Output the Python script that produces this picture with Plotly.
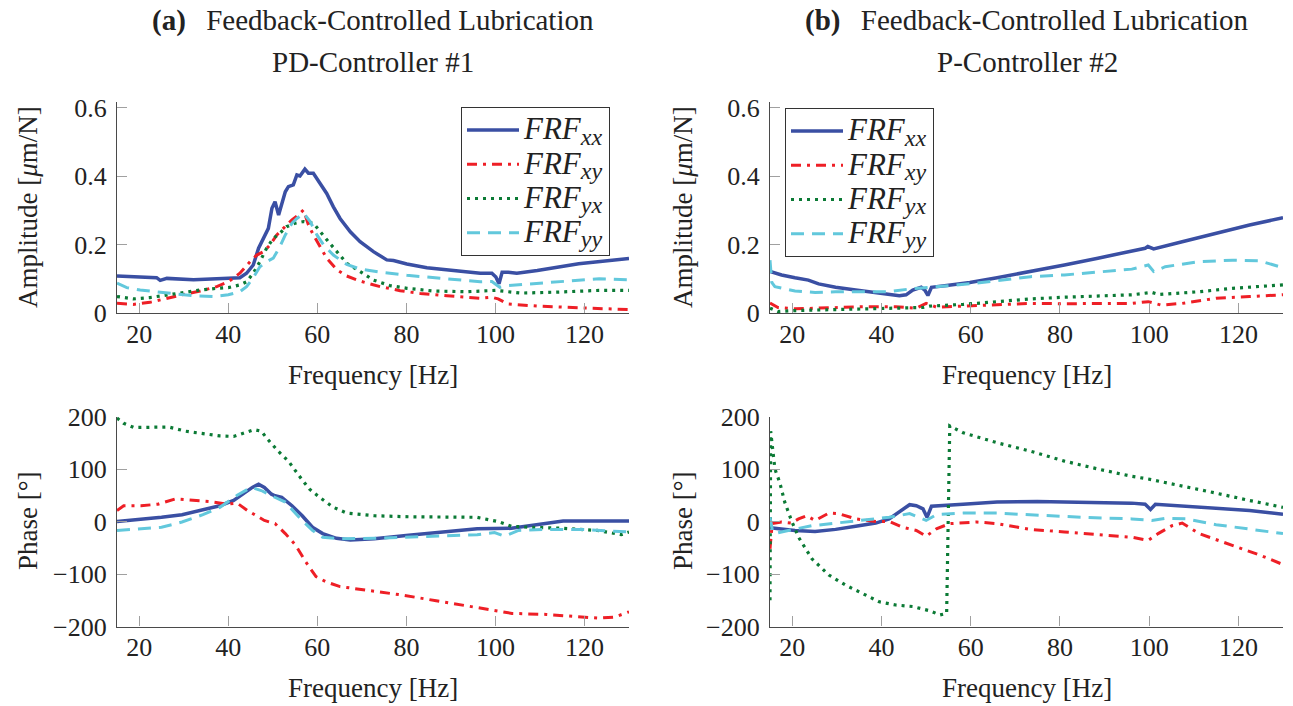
import plotly.graph_objects as go

# ---------------- Data ----------------
# (a) PD-Controller #1 : amplitude
a_amp_f_xx = [15, 20.2, 23.9, 24.7, 26.2, 32.2, 37.4, 40, 42.6, 44.1, 45.6, 46.8, 47.9, 49, 49.8, 50.5, 51.3, 52, 52.8, 53.5, 54.6, 55.4, 56.1, 57.2, 58, 59.1, 60.6, 62.1, 63.6, 65.1, 67.4, 69.6, 72.6, 75.6, 77.1, 80.1, 84.6, 89.1, 93.6, 96.6, 99.2, 100.1, 100.8, 101.5, 102.9, 104.8, 109.4, 118.7, 130]
a_amp_xx = [0.109, 0.105, 0.104, 0.096, 0.102, 0.098, 0.102, 0.102, 0.104, 0.117, 0.141, 0.19, 0.219, 0.248, 0.307, 0.326, 0.287, 0.316, 0.355, 0.37, 0.375, 0.404, 0.401, 0.421, 0.409, 0.409, 0.38, 0.35, 0.311, 0.277, 0.238, 0.209, 0.18, 0.156, 0.154, 0.144, 0.133, 0.127, 0.119, 0.117, 0.117, 0.106, 0.086, 0.12, 0.12, 0.117, 0.125, 0.145, 0.16]
a_amp_f_xy = [15, 18.7, 22.4, 26.2, 29.9, 33.7, 37.4, 40, 42.6, 44.9, 46.4, 47.9, 49.4, 50.9, 52.4, 54.3, 55.7, 56.9, 58, 59.1, 60.6, 62.1, 64.4, 66.6, 69.6, 74.1, 78.6, 83.1, 89.1, 96.6, 99.2, 100.6, 102.9, 109.4, 118.7, 130]
a_amp_xy = [0.029, 0.026, 0.032, 0.044, 0.055, 0.065, 0.078, 0.092, 0.117, 0.151, 0.17, 0.18, 0.2, 0.229, 0.248, 0.273, 0.287, 0.302, 0.258, 0.229, 0.195, 0.161, 0.127, 0.109, 0.094, 0.078, 0.066, 0.058, 0.051, 0.044, 0.047, 0.042, 0.027, 0.021, 0.016, 0.011]
a_amp_f_yx = [15, 18.7, 22.4, 26.2, 29.9, 33.7, 37.4, 40, 42.6, 44.1, 45.6, 47.1, 48.6, 50.1, 51.6, 53.1, 55, 56.9, 59.1, 60.6, 62.5, 64.4, 66.6, 69.6, 72.6, 76.3, 80.1, 86.1, 93.6, 100.1, 105.7, 114.1, 123.3, 130]
a_amp_yx = [0.049, 0.042, 0.046, 0.054, 0.061, 0.068, 0.073, 0.075, 0.083, 0.092, 0.117, 0.151, 0.19, 0.219, 0.234, 0.253, 0.263, 0.268, 0.263, 0.238, 0.209, 0.18, 0.146, 0.122, 0.097, 0.081, 0.073, 0.065, 0.063, 0.067, 0.059, 0.062, 0.067, 0.067]
a_amp_f_yy = [15, 17.2, 20.2, 23.9, 28.4, 32.2, 36.6, 40, 42.6, 44.1, 45.6, 47.1, 48.6, 50.1, 51.6, 52.8, 54.3, 55.4, 56.9, 58.4, 59.9, 61.4, 63.6, 66.6, 69.6, 74.1, 80.1, 86.1, 92.1, 96.6, 99.2, 101, 102.9, 109.4, 118.7, 123.3, 130]
a_amp_yy = [0.088, 0.075, 0.068, 0.063, 0.055, 0.051, 0.049, 0.054, 0.063, 0.078, 0.104, 0.136, 0.151, 0.161, 0.195, 0.229, 0.263, 0.277, 0.292, 0.268, 0.229, 0.2, 0.17, 0.143, 0.129, 0.12, 0.111, 0.104, 0.097, 0.092, 0.093, 0.076, 0.081, 0.088, 0.096, 0.101, 0.098]

# (a) phase
a_ph_f_xx = [15, 20.4, 25, 29.6, 34.3, 38.1, 41.2, 43.5, 45.4, 46.8, 48.1, 49.7, 50.5, 52, 54.3, 56.6, 58.9, 61.2, 64.3, 67.4, 72.8, 80.5, 88.2, 95.9, 103.6, 111.4, 115.2, 122.9, 130]
a_ph_xx = [0, 4, 8, 13, 23, 30, 40, 54, 65, 71, 65, 52, 49, 46, 30, 11, -11, -23, -32, -35, -33, -26, -20, -14, -13, -3, 1, 1, 1]
a_ph_f_xy = [15, 16.5, 20.4, 24.2, 28.1, 31.2, 35.8, 39.7, 42, 44.3, 48.1, 50.5, 52.8, 55.1, 57.4, 59.7, 62, 65.1, 71.3, 79, 86.7, 94.4, 99.8, 103.7, 111.4, 119.1, 122.9, 126.8, 130]
a_ph_xy = [21, 30, 30, 33, 43, 41, 38, 33, 35, 21, 2, -4, -23, -45, -77, -105, -115, -124, -131, -140, -151, -162, -170, -175, -177, -181, -184, -182, -172]
a_ph_f_yx = [15, 16.5, 18.8, 22.7, 26.6, 30.4, 34.3, 38.1, 41.2, 43.5, 45.8, 47.4, 48.9, 51.2, 53.5, 55.9, 58.2, 60.5, 63.6, 66.6, 72.8, 80.5, 88.2, 95.9, 100.5, 103.6, 107.5, 115.2, 122.9, 128.3, 130]
a_ph_yx = [197, 187, 179, 179, 180, 172, 168, 163, 162, 169, 175, 172, 156, 134, 115, 87, 62, 46, 27, 16, 11, 9, 9, 8, 0, -9, -11, -13, -17, -25, -20]
a_ph_f_yy = [15, 18.8, 25, 29.6, 34.3, 38.1, 42, 45.1, 47.4, 49.7, 52.8, 55.9, 58.9, 61.2, 65.1, 72.8, 80.5, 88.2, 95.9, 99.8, 102.1, 105.2, 111.4, 119.1, 130]
a_ph_yy = [-17, -15, -11, -1, 13, 27, 50, 65, 59, 49, 37, 8, -17, -30, -33, -32, -30, -28, -25, -21, -28, -17, -15, -15, -20]

# (b) P-Controller #2 : amplitude
b_amp_f_xx = [15, 17.6, 20.6, 23.6, 25.9, 29.7, 34.2, 38.7, 41.7, 44, 45.5, 47, 48.9, 49.7, 50.4, 51.2, 54.6, 59.8, 65.9, 73.4, 81, 88.5, 96.1, 99.1, 99.7, 101, 107.4, 115, 122.5, 130]
b_amp_xx = [0.122, 0.112, 0.104, 0.097, 0.086, 0.076, 0.068, 0.061, 0.054, 0.051, 0.054, 0.068, 0.076, 0.068, 0.052, 0.076, 0.081, 0.09, 0.104, 0.122, 0.141, 0.161, 0.18, 0.19, 0.195, 0.188, 0.209, 0.234, 0.258, 0.279]
b_amp_f_xy = [15, 16.8, 20.6, 28.2, 35.7, 43.2, 47.8, 50, 52.3, 58.3, 65.9, 73.4, 81, 88.5, 96.1, 99.8, 102.7, 107.4, 115, 122.5, 130]
b_amp_xy = [0.03, 0.017, 0.013, 0.017, 0.019, 0.019, 0.015, 0.029, 0.018, 0.021, 0.026, 0.029, 0.028, 0.029, 0.029, 0.034, 0.024, 0.029, 0.044, 0.049, 0.054]
b_amp_f_yx = [15, 16.8, 20.6, 28.2, 35.7, 43.2, 49.3, 50.8, 58.3, 65.9, 73.4, 81, 88.5, 96.1, 100.6, 102.2, 111.2, 118.7, 130]
b_amp_yx = [0.015, 0.005, 0.008, 0.01, 0.013, 0.015, 0.017, 0.021, 0.026, 0.034, 0.042, 0.047, 0.05, 0.054, 0.061, 0.055, 0.063, 0.073, 0.083]
b_amp_f_yy = [15, 15.4, 16.1, 20.6, 25.1, 29.7, 35.7, 41.7, 46.3, 50.8, 55.3, 61.4, 67.4, 73.4, 81, 88.5, 96.1, 99.8, 101, 103.6, 111.2, 118.7, 124.8, 130]
b_amp_yy = [0.155, 0.09, 0.078, 0.065, 0.061, 0.063, 0.063, 0.063, 0.071, 0.075, 0.081, 0.088, 0.097, 0.107, 0.112, 0.12, 0.129, 0.141, 0.122, 0.136, 0.151, 0.155, 0.153, 0.133]

# (b) phase
b_ph_f_xx = [15, 20.6, 25.1, 29.7, 34.2, 38.7, 41.7, 44, 46.3, 47.8, 49.3, 50.2, 51.2, 58.3, 65.9, 74.9, 84.8, 96.1, 99.1, 100.3, 101.4, 111.2, 122.5, 130]
b_ph_xx = [-12, -17, -19, -15, -9, -3, 5, 19, 32, 30, 24, 8, 29, 33, 37, 38, 37, 35, 33, 23, 33, 27, 21, 14]
b_ph_f_xy = [15, 15.5, 17.6, 19.8, 21.4, 23.2, 25.1, 28.2, 30.4, 34.2, 38.7, 41.7, 44.8, 47.8, 50, 52.3, 55.3, 61.4, 65.9, 73.4, 81, 88.5, 96.1, 99.8, 102, 105.1, 107.4, 111.2, 118.7, 124.8, 130]
b_ph_xy = [-52, -4, -1, -3, 5, 11, 2, 16, 15, 5, 0, 0, -11, -17, -28, -14, -4, -1, -4, -15, -20, -25, -30, -36, -23, -8, -3, -23, -45, -64, -82]
b_ph_f_yx = [15, 15.15, 16.1, 17.2, 18.3, 19.8, 21.4, 24.4, 28.2, 31.9, 35.7, 39.5, 43.2, 47, 50.8, 53.1, 54.6, 55.3, 58.3, 65.9, 73.4, 81, 88.5, 96.1, 99.8, 107.4, 115, 122.5, 130]
b_ph_yx = [-150, 172, 100, 74, 37, 2, -30, -71, -102, -121, -137, -153, -159, -162, -170, -178, -175, 182, 169, 150, 134, 115, 100, 86, 81, 68, 54, 40, 27]
b_ph_f_yy = [15, 15.6, 16.1, 19.1, 24.4, 29.7, 35.7, 41.7, 46.3, 48.5, 50, 52.3, 58.3, 65.9, 73.4, 84.8, 96.1, 100.6, 103.6, 108.2, 115, 122.5, 130]
b_ph_yy = [8, -20, -23, -17, -8, -3, 2, 8, 15, 8, 2, 13, 16, 16, 13, 8, 5, 2, 6, 5, -6, -15, -23]

x_ticks = [20, 40, 60, 80, 100, 120]
amp_ticks = [0, 0.2, 0.4, 0.6]
amp_ticktext = ["0", "0.2", "0.4", "0.6"]
ph_ticks = [-200, -100, 0, 100, 200]

subscripts = ["xx", "xy", "yx", "yy"]
names = ['<span style="font-size:31px"><i>FRF</i></span><sub><span style="font-size:24px"><i>%s</i></span></sub>' % s
         for s in subscripts]

# ---------------- Styling ----------------
W, H = 1293, 706
FONT = "Liberation Serif, DejaVu Serif, serif"
colors = ["#3a4fa3", "#ee1f26", "#0b7a35", "#62c8dc"]
dashes = ["solid", "10px,6px,3px,6px", "3px,5px", "13px,8px"]
widths = [3.5, 3, 3.2, 3]

def px_x(a, b):
    return [a / W, b / W]

def px_y(top, bottom):
    return [1 - bottom / H, 1 - top / H]

XL = px_x(117, 629)
XR = px_x(770, 1283)
YT = px_y(101.7, 313.3)
YB = px_y(416.5, 626.5)

fig = go.Figure()

panels = [
    ("x", "y", [a_amp_f_xx, a_amp_f_xy, a_amp_f_yx, a_amp_f_yy], [a_amp_xx, a_amp_xy, a_amp_yx, a_amp_yy], "legend"),
    ("x2", "y2", [b_amp_f_xx, b_amp_f_xy, b_amp_f_yx, b_amp_f_yy], [b_amp_xx, b_amp_xy, b_amp_yx, b_amp_yy], "legend2"),
    ("x3", "y3", [a_ph_f_xx, a_ph_f_xy, a_ph_f_yx, a_ph_f_yy], [a_ph_xx, a_ph_xy, a_ph_yx, a_ph_yy], None),
    ("x4", "y4", [b_ph_f_xx, b_ph_f_xy, b_ph_f_yx, b_ph_f_yy], [b_ph_xx, b_ph_xy, b_ph_yx, b_ph_yy], None),
]

for xa, ya, fs, vs, leg in panels:
    for i in range(4):
        kw = dict(showlegend=False)
        if leg:
            kw = dict(showlegend=True, legend=leg)
        fig.add_trace(go.Scatter(
            x=fs[i], y=vs[i], mode="lines", name=names[i],
            line=dict(color=colors[i], width=widths[i], dash=dashes[i]),
            xaxis=xa, yaxis=ya, hoverinfo="skip", **kw))

axis_common = dict(
    showgrid=False, zeroline=False, showline=True, linecolor="#4a4a4a", linewidth=1.3,
    ticks="inside", ticklen=10, tickwidth=1, tickcolor="#a0a0a0", mirror=False,
    tickfont=dict(family=FONT, size=26, color="#222"), fixedrange=True, automargin=False,
)

xcommon = dict(axis_common, range=[15, 130], tickvals=x_ticks, ticklabelstandoff=-3)
ycommon = dict(axis_common, ticklabelstandoff=4)

legend_common = dict(xanchor="left", yanchor="top", bordercolor="#333", borderwidth=1,
                     bgcolor="white", font=dict(family=FONT, size=24, color="#222"),
                     tracegroupgap=0, itemwidth=52)

fig.update_layout(
    width=W, height=H, autosize=False, margin=dict(l=0, r=0, t=0, b=0, pad=0, autoexpand=False),
    paper_bgcolor="white", plot_bgcolor="white",
    xaxis=dict(xcommon, domain=XL, anchor="y"),
    yaxis=dict(ycommon, domain=YT, anchor="x", range=[0, 0.618], tickvals=amp_ticks, ticktext=amp_ticktext),
    xaxis2=dict(xcommon, domain=XR, anchor="y2"),
    yaxis2=dict(ycommon, domain=YT, anchor="x2", range=[0, 0.618], tickvals=amp_ticks, ticktext=amp_ticktext),
    xaxis3=dict(xcommon, domain=XL, anchor="y3"),
    yaxis3=dict(ycommon, domain=YB, anchor="x3", range=[-200, 200], tickvals=ph_ticks),
    xaxis4=dict(xcommon, domain=XR, anchor="y4"),
    yaxis4=dict(ycommon, domain=YB, anchor="x4", range=[-200, 200], tickvals=ph_ticks),
    legend=dict(legend_common, x=461 / W, y=1 - 107 / H),
    legend2=dict(legend_common, x=785 / W, y=1 - 108 / H),
)

def ann(text, xp, yp, size=27, angle=0):
    fig.add_annotation(text=text, x=xp / W, y=1 - yp / H, xref="paper", yref="paper",
                       showarrow=False, textangle=angle, xanchor="center", yanchor="middle",
                       font=dict(family=FONT, size=size, color="#222"))

ann("<b>(a)</b>\u2002\u2009Feedback-Controlled Lubrication", 373, 20, size=29)
ann("PD-Controller #1", 373, 62, size=29)
ann("<b>(b)</b>\u2002\u2009Feedback-Controlled Lubrication", 1027, 20, size=29)
ann("P-Controller #2", 1027, 62, size=29)

ann("Amplitude [<i>μ</i>m/N]", 28, 207, angle=-90)
ann("Amplitude [<i>μ</i>m/N]", 683, 207, angle=-90)
ann("Phase [°]", 28, 521, angle=-90)
ann("Phase [°]", 683, 521, angle=-90)

ann("Frequency [Hz]", 373, 375)
ann("Frequency [Hz]", 1027, 375)
ann("Frequency [Hz]", 373, 688)
ann("Frequency [Hz]", 1027, 688)

fig.write_html("out.html")
